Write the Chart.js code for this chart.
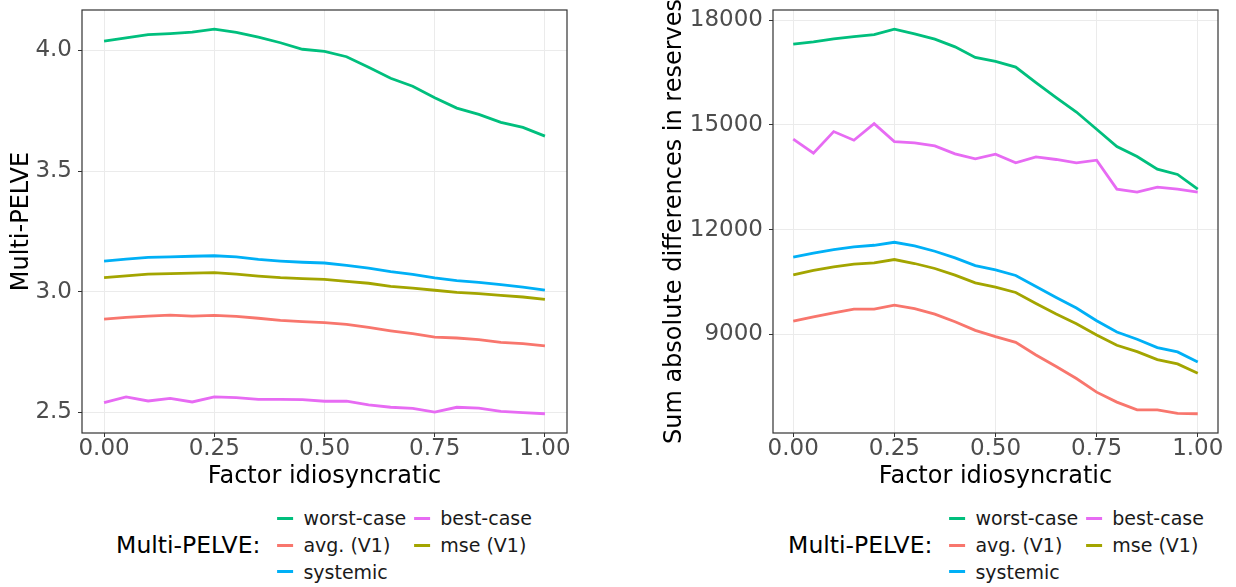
<!DOCTYPE html>
<html>
<head>
<meta charset="utf-8">
<title>Multi-PELVE vs factor idiosyncratic</title>
<script src="https://cdn.jsdelivr.net/npm/chart.js@4.4.1/dist/chart.umd.min.js"></script>
<style>
	html, body { margin: 0; padding: 0; background: #fff; }
	body { width: 1236px; height: 587px; position: relative; overflow: hidden; font-family: 'DejaVu Sans', sans-serif; }
	.panel { position: absolute; top: 0; height: 500px; }
	.legend { position: absolute; top: 505px; display: flex; align-items: center; transform: translateX(-50%); white-space: nowrap; }
	.legend-title { font-size: 23.5px; color: #000; margin-right: 17px; }
	.legend-keys { display: grid; grid-template-rows: repeat(3, 26.7px); grid-auto-flow: column; column-gap: 8px; }
	.legend-item { display: flex; align-items: center; font-size: 19px; color: #1a1a1a; }
	.legend-item i { display: inline-block; width: 16px; height: 3px; margin-right: 10px; }
</style>
</head>
<body>
<div class="panel" style="left:0;width:600px"><canvas id="pelve"></canvas></div>
<div class="panel" style="left:640px;width:596px"><canvas id="reserves"></canvas></div>
<div class="legend" id="pelve-legend" style="left:324px"></div>
<div class="legend" id="reserves-legend" style="left:996px"></div>
<script>
;(function () {
	'use strict';

	// x values shared by both panels
	var factorIdio = [0.00, 0.05, 0.10, 0.15, 0.20, 0.25, 0.30, 0.35, 0.40, 0.45, 0.50,
		0.55, 0.60, 0.65, 0.70, 0.75, 0.80, 0.85, 0.90, 0.95, 1.00];
	var xTicks = [0, 0.25, 0.5, 0.75, 1];

	// Multi-PELVE level per method
	var worstPelve    = [4.039, 4.052, 4.066, 4.070, 4.076, 4.088, 4.075, 4.055, 4.032, 4.005, 3.996,
		3.974, 3.930, 3.885, 3.852, 3.804, 3.761, 3.735, 3.702, 3.681, 3.645];
	var avgPelve      = [2.886, 2.894, 2.899, 2.903, 2.899, 2.902, 2.898, 2.890, 2.881, 2.876, 2.872,
		2.865, 2.852, 2.838, 2.826, 2.812, 2.808, 2.801, 2.790, 2.785, 2.775];
	var systemicPelve = [3.127, 3.135, 3.142, 3.144, 3.147, 3.149, 3.144, 3.134, 3.127, 3.122, 3.119,
		3.109, 3.098, 3.083, 3.072, 3.057, 3.046, 3.039, 3.029, 3.019, 3.007];
	var bestPelve     = [2.540, 2.564, 2.547, 2.558, 2.543, 2.564, 2.561, 2.554, 2.554, 2.553, 2.546,
		2.546, 2.531, 2.521, 2.516, 2.501, 2.521, 2.517, 2.504, 2.499, 2.494];
	var msePelve      = [3.058, 3.066, 3.073, 3.075, 3.077, 3.079, 3.073, 3.065, 3.058, 3.054, 3.051,
		3.043, 3.035, 3.022, 3.015, 3.006, 2.997, 2.992, 2.985, 2.978, 2.968];
	var pelveTicks = [2.5, 3.0, 3.5, 4.0];

	// Sum of absolute differences in reserves per method
	var worstDiff    = [17314, 17381, 17467, 17533, 17590, 17743, 17610, 17457, 17238, 16933, 16819,
		16657, 16210, 15781, 15371, 14876, 14381, 14095, 13733, 13581, 13162];
	var avgDiff      = [9380, 9503, 9617, 9723, 9723, 9837, 9733, 9580, 9361, 9114, 8933,
		8771, 8409, 8076, 7733, 7343, 7057, 6837, 6837, 6733, 6723];
	var systemicDiff = [11210, 11324, 11429, 11505, 11552, 11638, 11533, 11381, 11190, 10971, 10848,
		10686, 10371, 10057, 9752, 9391, 9066, 8857, 8619, 8495, 8209];
	var bestDiff     = [14591, 14190, 14810, 14562, 15038, 14524, 14486, 14400, 14171, 14029, 14162,
		13914, 14086, 14010, 13914, 13990, 13162, 13076, 13219, 13162, 13076];
	var mseDiff      = [10705, 10829, 10933, 11010, 11048, 11143, 11029, 10886, 10695, 10476, 10352,
		10200, 9886, 9581, 9305, 8981, 8686, 8505, 8276, 8152, 7886];
	var diffTicks = [9000, 12000, 15000, 18000];

	var methods = ['worst-case', 'avg. (V1)', 'systemic', 'best-case', 'mse (V1)'];
	var colors  = ['#00BF7D', '#F8766D', '#00B0F6', '#E76BF3', '#A3A500'];

	Chart.defaults.font.family = "'DejaVu Sans', sans-serif";
	Chart.defaults.animation = false;

	// theme_bw style frame around the plotting area
	var panelBorder = {
		id: 'panelBorder',
		afterDraw: function (chart) {
			var a = chart.chartArea,
				ctx = chart.ctx;
			ctx.save();
			ctx.strokeStyle = '#333333';
			ctx.lineWidth = 1.2;
			ctx.strokeRect(a.left, a.top, a.right - a.left, a.bottom - a.top);
			ctx.restore();
		}
	};

	function fixedTicks(values) {
		return function (scale) {
			scale.ticks = values.map(function (v) { return {value: v}; });
		};
	}

	// 5% padding on both ends, like ggplot's default expansion
	function expanded(series) {
		var all = [].concat.apply([], series),
			lo = Math.min.apply(null, all),
			hi = Math.max.apply(null, all),
			pad = (hi - lo) * 0.05;
		return {min: lo - pad, max: hi + pad};
	}

	function makeChart(id, series, o) {
		var range = expanded(series);

		return new Chart(document.getElementById(id), {
			type: 'line',
			data: {
				datasets: series.map(function (values, i) {
					return {
						label: methods[i],
						borderColor: colors[i],
						backgroundColor: colors[i],
						borderWidth: 2.8,
						pointRadius: 0,
						tension: 0,
						data: values.map(function (v, j) { return {x: factorIdio[j], y: v}; })
					};
				})
			},
			options: {
				responsive: true,
				maintainAspectRatio: false,
				layout: {padding: {top: 10, right: o.rightPad, bottom: 0, left: 0}},
				plugins: {legend: {display: false}, tooltip: {enabled: false}},
				scales: {
					x: {
						type: 'linear',
						min: -0.05,
						max: 1.05,
						afterBuildTicks: fixedTicks(xTicks),
						afterFit: function (s) {
							s.height = 67;
							s.paddingLeft = 0;
							s.paddingRight = 0;
						},
						border: {display: false},
						grid: {color: '#EBEBEB', tickColor: '#333333', tickLength: 4},
						ticks: {
							color: '#4D4D4D',
							padding: 1,
							maxRotation: 0,
							font: {size: 23, lineHeight: 1},
							callback: function (v) { return v.toFixed(2); }
						},
						title: {
							display: true,
							text: 'Factor idiosyncratic',
							color: '#000',
							font: {size: 24},
							padding: {top: 0, bottom: 9}
						}
					},
					y: {
						min: range.min,
						max: range.max,
						afterBuildTicks: fixedTicks(o.ticks),
						afterFit: function (s) {
							s.width = o.axisWidth;
							s.paddingTop = 0;
							s.paddingBottom = 0;
						},
						border: {display: false},
						grid: {color: '#EBEBEB', tickColor: '#333333', tickLength: 4},
						ticks: {
							color: '#4D4D4D',
							padding: 6,
							font: {size: 23, lineHeight: 1},
							callback: o.format
						},
						title: {
							display: true,
							text: o.title,
							color: '#000',
							font: {size: 24},
							padding: {top: o.titlePad, bottom: 0}
						}
					}
				}
			},
			plugins: [panelBorder]
		});
	}

	function buildLegend(elId, chart) {
		var html = '<span class="legend-title">Multi-PELVE:</span><div class="legend-keys">';
		chart.data.datasets.forEach(function (ds) {
			html += '<div class="legend-item"><i style="background:' + ds.borderColor + '"></i>' + ds.label + '</div>';
		});
		document.getElementById(elId).innerHTML = html + '</div>';
	}

	var pelveChart = makeChart('pelve',
		[worstPelve, avgPelve, systemicPelve, bestPelve, msePelve], {
			ticks: pelveTicks,
			format: function (v) { return v.toFixed(1); },
			title: 'Multi-PELVE',
			axisWidth: 82,
			titlePad: 7,
			rightPad: 33
		});

	var reservesChart = makeChart('reserves',
		[worstDiff, avgDiff, systemicDiff, bestDiff, mseDiff], {
			ticks: diffTicks,
			format: function (v) { return String(v); },
			title: 'Sum absolute differences in reserves',
			axisWidth: 133,
			titlePad: 20,
			rightPad: 18
		});

	buildLegend('pelve-legend', pelveChart);
	buildLegend('reserves-legend', reservesChart);
})();
</script>
</body>
</html>
